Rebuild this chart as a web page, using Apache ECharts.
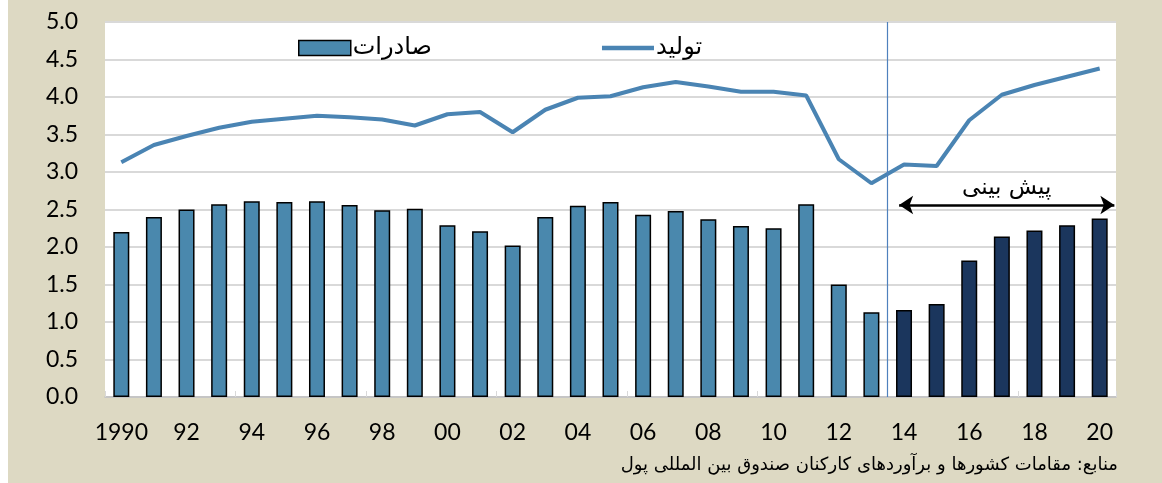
<!DOCTYPE html>
<html>
<head>
<meta charset="utf-8">
<script src="https://cdn.jsdelivr.net/npm/echarts@6/dist/echarts.min.js"></script>
<style>
  html, body { margin: 0; padding: 0; background: #fff; }
  #chart { width: 1162px; height: 483px; }
</style>
</head>
<body>
<div id="chart"></div>
<script>
// years 1990..2020, labels every 2 years
const years = ['1990','91','92','93','94','95','96','97','98','99','00','01','02','03','04','05','06','07','08','09','10','11','12','13','14','15','16','17','18','19','20'];
// صادرات (bars)
const exportsVals = [2.20,2.40,2.50,2.57,2.61,2.60,2.61,2.56,2.49,2.51,2.29,2.21,2.02,2.40,2.55,2.60,2.43,2.48,2.37,2.28,2.25,2.57,1.50,1.13,1.16,1.24,1.82,2.14,2.22,2.29,2.38];
// تولید (line)
const productionVals = [3.13,3.36,3.48,3.59,3.67,3.71,3.75,3.73,3.70,3.62,3.77,3.80,3.53,3.83,3.99,4.01,4.13,4.20,4.14,4.07,4.07,4.02,3.17,2.85,3.10,3.08,3.69,4.03,4.16,4.27,4.38];
const forecastStart = 24; // 2014

const lightBlue = '#4a88ad';
const darkBlue = '#1b365d';
const lineBlue = '#4a84b3';

const chart = echarts.init(document.getElementById('chart'));

const barData = exportsVals.map((v, i) => ({
  value: v,
  itemStyle: { color: i >= forecastStart ? darkBlue : lightBlue }
}));

chart.setOption({
  backgroundColor: '#ddd9c3',
  animation: false,
  graphic: [
    { type: 'rect', left: 0, top: 0, shape: { width: 8, height: 483 }, style: { fill: '#fff' } },
    {
      type: 'text', right: 44, top: 456,
      style: {
        text: 'منابع: مقامات کشورها و برآوردهای کارکنان صندوق بین المللی پول',
        font: '18px "DejaVu Sans"', fill: '#000', align: 'right'
      }
    }
  ],
  grid: {
    left: 105, right: 46, top: 22, bottom: 86,
    show: true, backgroundColor: '#fff', borderWidth: 0
  },
  legend: {
    left: 293, top: 31, itemWidth: 52, itemHeight: 15, itemGap: 170,
    textStyle: { fontSize: 24, fontFamily: 'DejaVu Sans', color: '#000', padding: [0, 0, 0, -3] },
    data: [
      { name: 'صادرات', icon: 'rect', itemStyle: { color: lightBlue, borderColor: '#000', borderWidth: 1.5 } },
      { name: 'تولید', icon: 'path://M0,0 L52,0 L52,4.5 L0,4.5 Z', itemStyle: { color: lineBlue } }
    ]
  },
  xAxis: [
    {
      type: 'category', data: years, boundaryGap: true,
      axisLine: { lineStyle: { color: '#bfbfbf', width: 1.5 } },
      axisTick: { show: true, inside: true, interval: 3, length: 6, lineStyle: { color: '#d9d9d9' } },
      axisLabel: { interval: 1, margin: 24, fontSize: 23, fontFamily: 'Lato', color: '#000' }
    },
    { type: 'value', min: 0, max: 31, show: false }
  ],
  yAxis: {
    type: 'value', min: 0, max: 5, interval: 0.5,
    axisLine: { show: false }, axisTick: { show: false },
    axisLabel: { margin: 27, fontSize: 23, fontFamily: 'Lato', color: '#000', formatter: v => v.toFixed(1) },
    splitLine: { lineStyle: { color: '#d9d9d9', width: 2 } }
  },
  series: [
    {
      name: 'صادرات', type: 'bar', data: barData, barWidth: 16,
      itemStyle: { borderColor: '#000', borderWidth: 1.5 }
    },
    {
      name: 'تولید', type: 'line', data: productionVals, symbol: 'none',
      lineStyle: { color: lineBlue, width: 4 }, itemStyle: { color: lineBlue }
    },
    {
      name: 'marks', type: 'line', xAxisIndex: 1, data: [], silent: true,
      markLine: {
        silent: true, symbol: 'none', animation: false,
        label: { show: false },
        symbolSize: 14,
        data: [
          [{ coord: [forecastStart, 0], lineStyle: { color: '#4f81bd', width: 1.2, type: 'solid' } }, { coord: [forecastStart, 5] }],
          [{ coord: [24.35, 2.56], symbol: 'arrow', lineStyle: { color: '#000', width: 2.5, type: 'solid' },
             label: { show: true, position: 'middle', formatter: 'پیش بینی', fontSize: 23, fontFamily: 'DejaVu Sans', color: '#000', distance: 5 } },
           { coord: [30.95, 2.56], symbol: 'arrow' }]
        ]
      }
    }
  ]
});
</script>
</body>
</html>
